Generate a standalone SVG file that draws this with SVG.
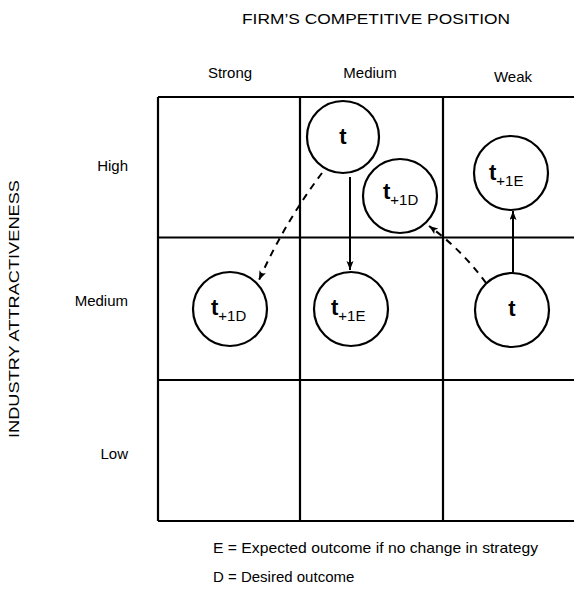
<svg xmlns="http://www.w3.org/2000/svg" width="574" height="597" viewBox="0 0 574 597">
  <style>
    text { font-family: "Liberation Sans", Arial, sans-serif; fill: #000; }
    .lbl { font-size: 15px; }
    .grid { stroke: #000; stroke-width: 2.2; fill: none; }
    .node { fill: #fff; stroke: #000; stroke-width: 2.2; }
    .t { font-size: 22px; font-weight: bold; }
    .sub { font-size: 15px; }
    .link { stroke: #000; stroke-width: 2; fill: none; }
    .dash { stroke-dasharray: 7 6; }
  </style>
  <defs>
    <marker id="arrow" markerUnits="userSpaceOnUse" markerWidth="10" markerHeight="8" refX="9" refY="3.5" orient="auto">
      <path d="M0,0 L9,3.5 L0,7 L2,3.5 z" fill="#000"/>
    </marker>
  </defs>
  <rect width="574" height="597" fill="#fff"/>

  <!-- axis titles -->
  <text class="lbl" x="376" y="24" text-anchor="middle" textLength="268" lengthAdjust="spacingAndGlyphs">FIRM’S COMPETITIVE POSITION</text>
  <text class="lbl" transform="translate(19,309) rotate(-90)" text-anchor="middle" style="font-size:14px" textLength="258" lengthAdjust="spacingAndGlyphs">INDUSTRY ATTRACTIVENESS</text>

  <!-- column headings -->
  <text class="lbl" x="230" y="78" text-anchor="middle">Strong</text>
  <text class="lbl" x="370" y="78" text-anchor="middle">Medium</text>
  <text class="lbl" x="513" y="82" text-anchor="middle">Weak</text>

  <!-- row headings -->
  <text class="lbl" x="128" y="171" text-anchor="end">High</text>
  <text class="lbl" x="128" y="306" text-anchor="end">Medium</text>
  <text class="lbl" x="128" y="459" text-anchor="end">Low</text>

  <!-- 3x3 matrix -->
  <g id="matrix" class="grid">
    <path d="M158,97 H574 M158,237.5 H574 M158,380 H574 M158,521 H574"/>
    <path d="M158,97 V521 M300,97 V521 M443,97 V521"/>
  </g>

  <!-- movement arrows -->
  <g id="connectors">
    <path class="link dash" d="M322,173 Q285,222 259,280" marker-end="url(#arrow)"/>
    <path class="link" d="M350,177 V270" marker-end="url(#arrow)"/>
    <path class="link" d="M513,273 V211" marker-end="url(#arrow)"/>
    <path class="link dash" d="M486,283 Q462,250 429,226" marker-end="url(#arrow)"/>
  </g>

  <!-- positions -->
  <g id="node-t-medium-high">
    <circle class="node" cx="343" cy="137" r="36"/>
    <text class="t" x="343" y="144" text-anchor="middle">t</text>
  </g>
  <g id="node-t1d-medium-high">
    <circle class="node" cx="400" cy="196" r="37"/>
    <text x="383" y="199"><tspan class="t">t</tspan><tspan class="sub" dy="6">+1D</tspan></text>
  </g>
  <g id="node-t1e-weak-high">
    <circle class="node" cx="511" cy="173" r="37"/>
    <text x="489" y="180"><tspan class="t">t</tspan><tspan class="sub" dy="6">+1E</tspan></text>
  </g>
  <g id="node-t1d-strong-medium">
    <circle class="node" cx="230" cy="309" r="37"/>
    <text x="211" y="315"><tspan class="t">t</tspan><tspan class="sub" dy="6">+1D</tspan></text>
  </g>
  <g id="node-t1e-medium-medium">
    <circle class="node" cx="351" cy="309" r="37"/>
    <text x="331" y="315"><tspan class="t">t</tspan><tspan class="sub" dy="6">+1E</tspan></text>
  </g>
  <g id="node-t-weak-medium">
    <circle class="node" cx="512" cy="310" r="37"/>
    <text class="t" x="512" y="316" text-anchor="middle">t</text>
  </g>

  <!-- legend -->
  <text class="lbl" x="213" y="553" textLength="325" lengthAdjust="spacingAndGlyphs">E = Expected outcome if no change in strategy</text>
  <text class="lbl" x="213" y="582">D = Desired outcome</text>
</svg>
